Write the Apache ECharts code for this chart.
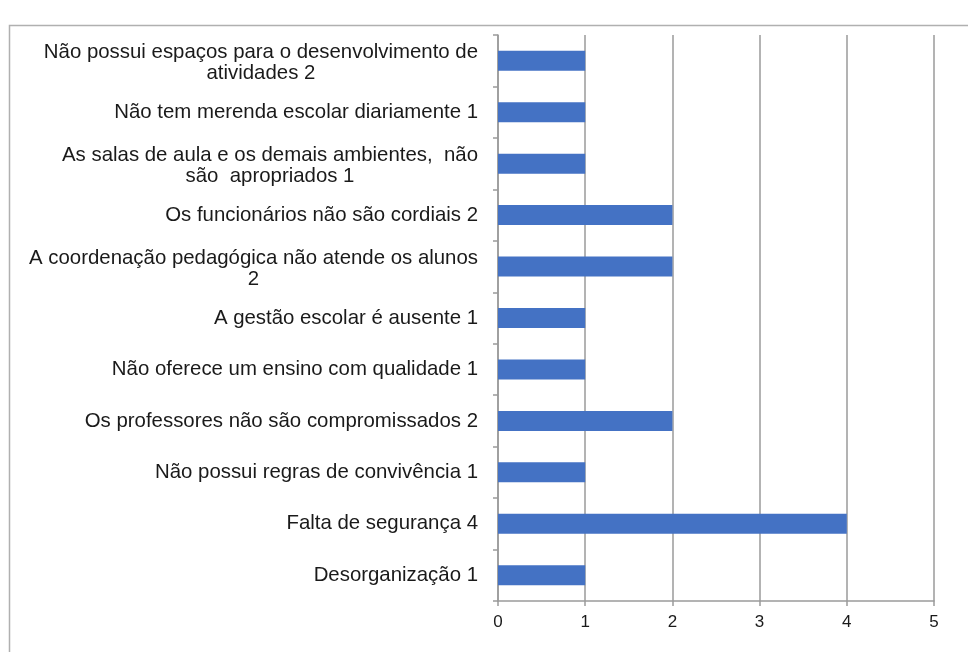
<!DOCTYPE html>
<html>
<head>
<meta charset="utf-8">
<script src="https://cdn.jsdelivr.net/npm/echarts@6/dist/echarts.min.js"></script>
<style>html,body{margin:0;padding:0;background:#fff;}#c{width:968px;height:652px;}</style>
</head>
<body>
<div id="c"></div>
<script>
const categories = [
  "Não possui espaços para o desenvolvimento de\natividades 2",
  "Não tem merenda escolar diariamente 1",
  "As salas de aula e os demais ambientes,  não\nsão  apropriados 1",
  "Os funcionários não são cordiais 2",
  "A coordenação pedagógica não atende os alunos\n2",
  "A gestão escolar é ausente 1",
  "Não oferece um ensino com qualidade 1",
  "Os professores não são compromissados 2",
  "Não possui regras de convivência 1",
  "Falta de segurança 4",
  "Desorganização 1"
];
const values = [1, 1, 1, 2, 2, 1, 1, 2, 1, 4, 1];
const xTicks = [0, 1, 2, 3, 4, 5];

const FONT = 'Liberation Sans, Arial, sans-serif';
const FS = 20.4;
const LH = 21;
const yData = categories.map(function (c) {
  return c.indexOf('\n') >= 0 ? { value: c, textStyle: { padding: [4, 0, 0, 0] } } : c;
});
const chart = echarts.init(document.getElementById('c'));
chart.setOption({
  animation: false,
  backgroundColor: '#ffffff',
  graphic: [{
    type: 'rect',
    shape: { x: 9.5, y: 25.5, width: 1100, height: 800 },
    style: { fill: 'none', stroke: '#b0b0b0', lineWidth: 1.5 },
    silent: true
  }],
  grid: { left: 498, right: 34, top: 35, bottom: 51, containLabel: false },
  xAxis: {
    type: 'value',
    min: xTicks[0],
    max: xTicks[xTicks.length - 1],
    interval: 1,
    axisLine: { show: true, lineStyle: { color: '#9a9a9a', width: 1.5 } },
    axisTick: { show: true, length: 5, lineStyle: { color: '#9a9a9a', width: 1.5 } },
    splitLine: { show: true, lineStyle: { color: '#9a9a9a', width: 1.5 } },
    axisLabel: { color: '#1a1a1a', fontSize: 17, fontFamily: FONT, margin: 13 }
  },
  yAxis: {
    type: 'category',
    inverse: true,
    data: yData,
    axisLine: { show: true, lineStyle: { color: '#9a9a9a', width: 1.5 } },
    axisTick: { show: true, length: 5, lineStyle: { color: '#9a9a9a', width: 1.5 } },
    axisLabel: {
      color: '#1a1a1a',
      fontSize: FS,
      fontFamily: FONT,
      margin: 20,
      lineHeight: LH,
      interval: 0,
      formatter: function (v) {
        return v.split('\n').map(function (l) { return '{c|' + l + '}'; }).join('\n');
      },
      rich: {
        c: { align: 'center', color: '#1a1a1a', fontSize: FS, lineHeight: LH, fontFamily: FONT }
      }
    }
  },
  series: [{
    type: 'bar',
    data: values,
    barWidth: 20,
    itemStyle: { color: '#4472C4' }
  }]
});
</script>
</body>
</html>
